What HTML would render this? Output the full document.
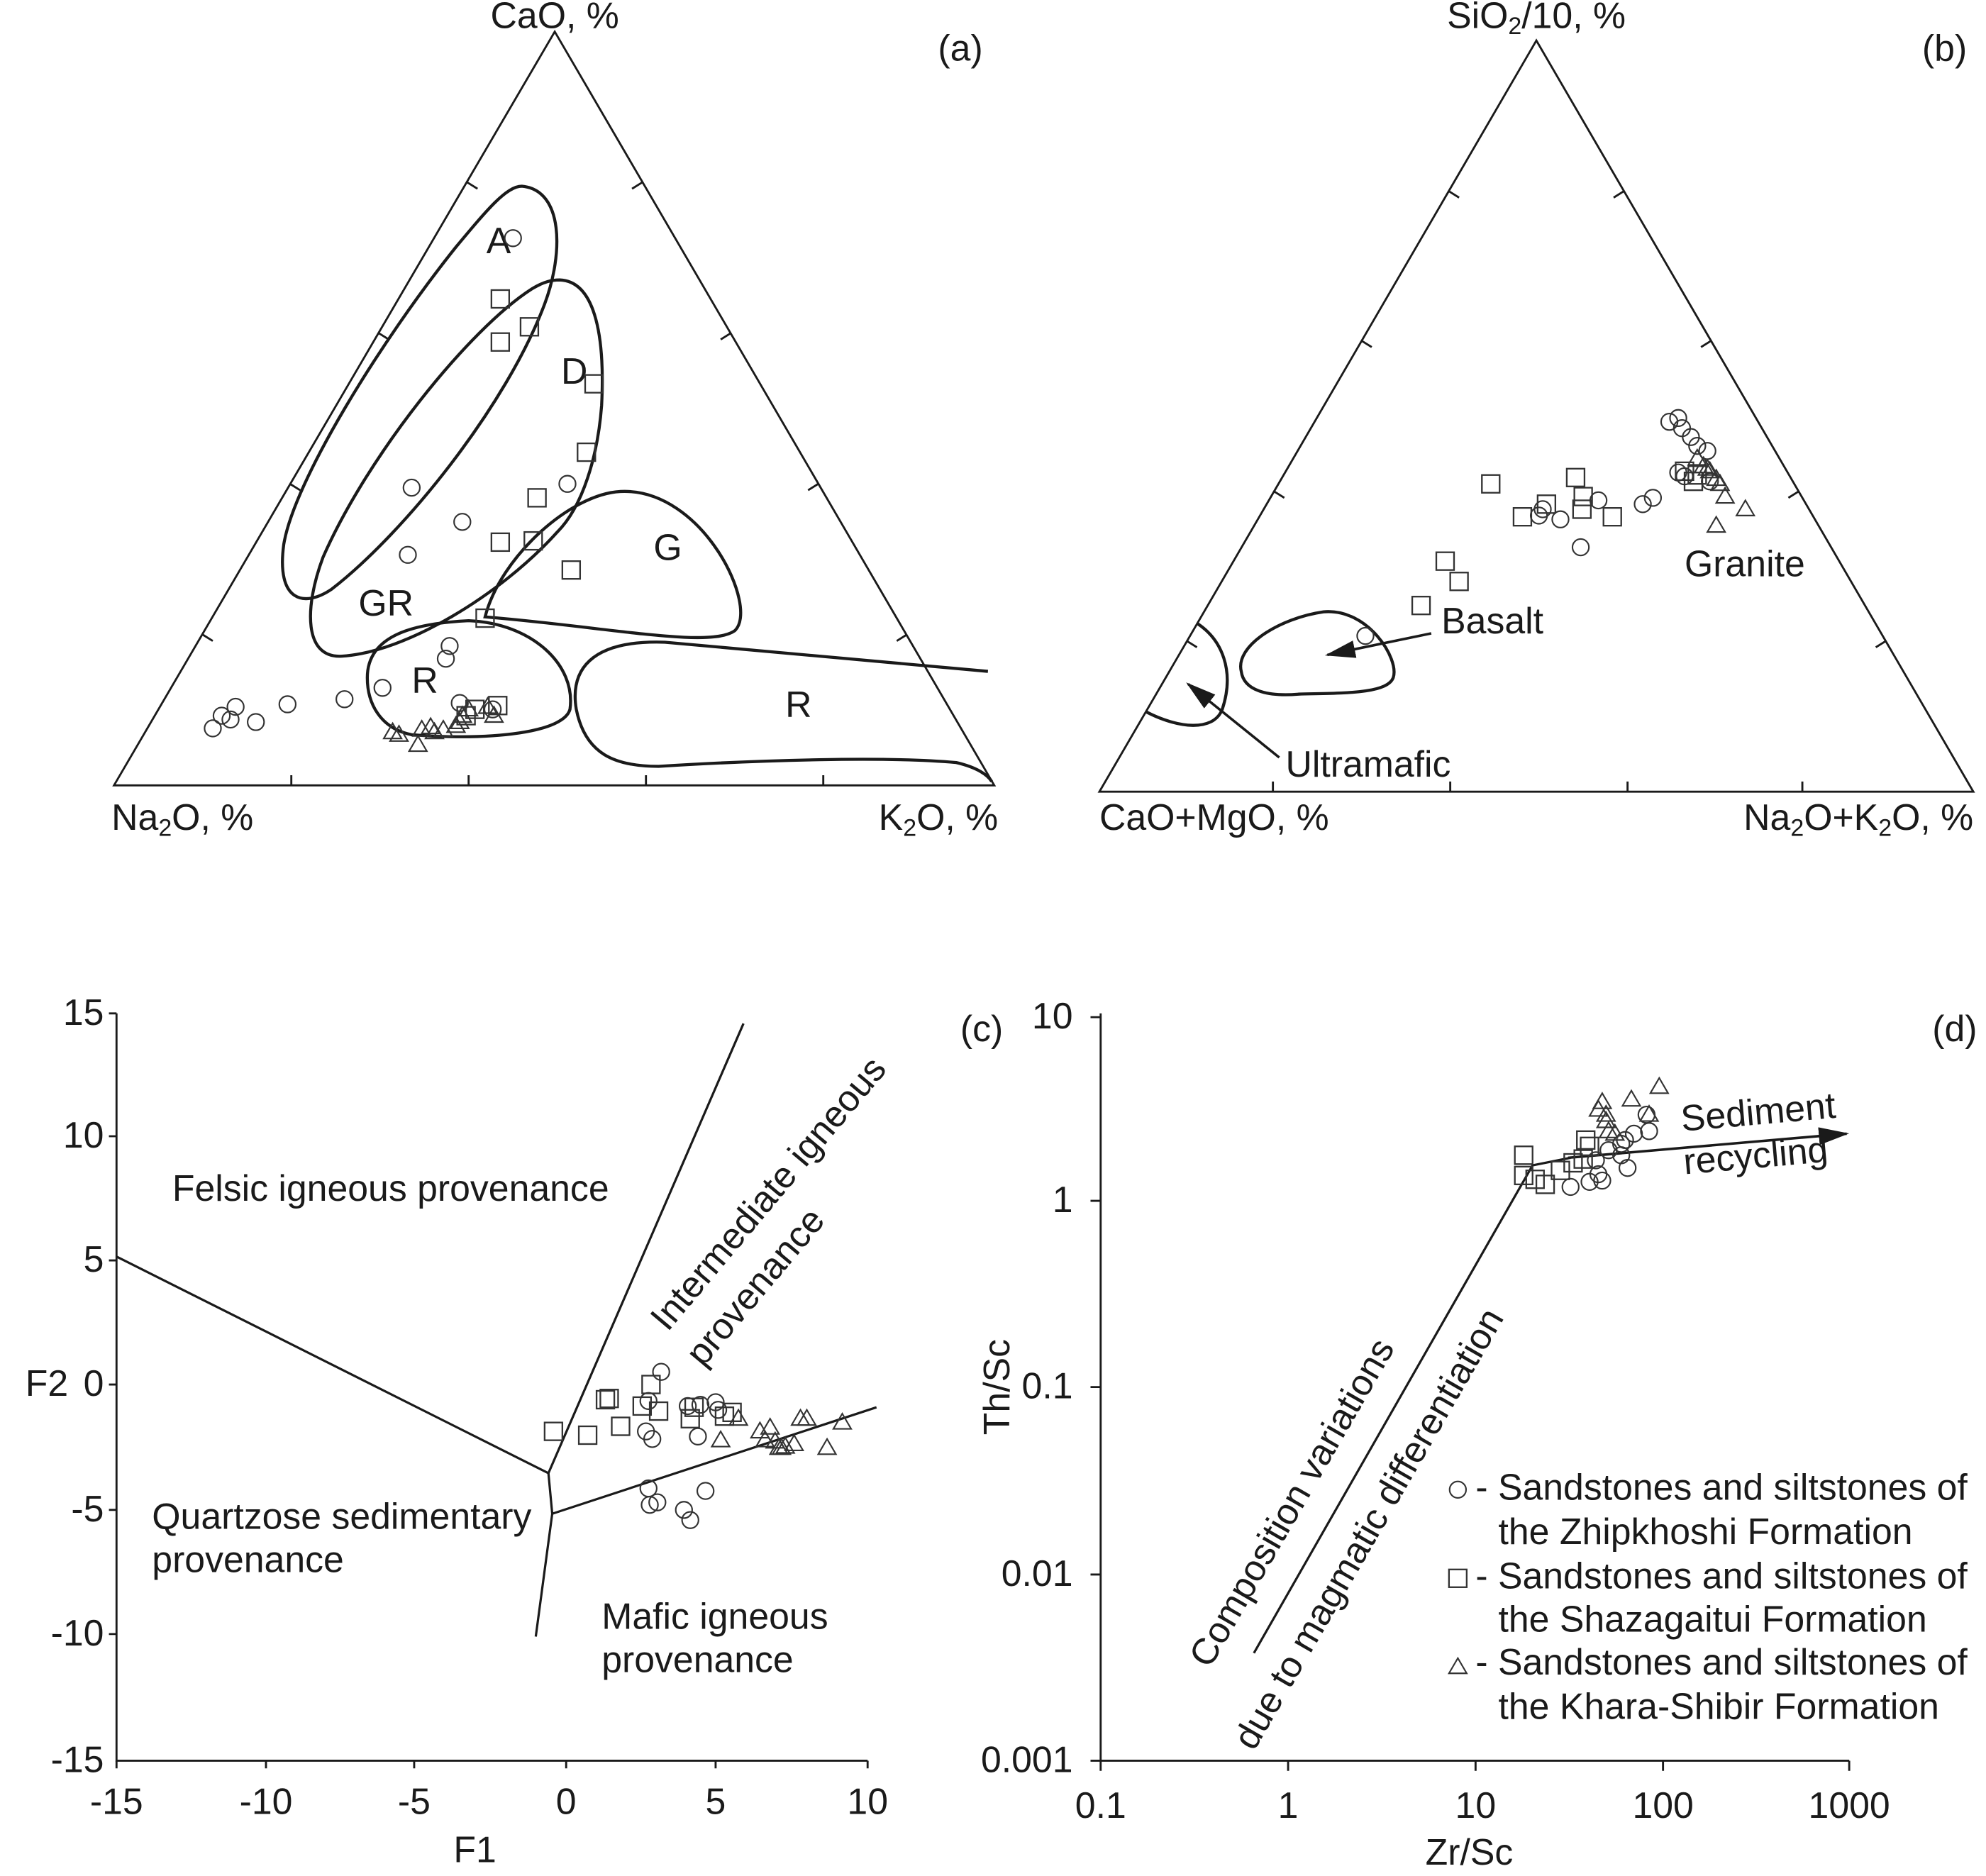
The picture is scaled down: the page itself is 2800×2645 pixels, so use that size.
<!DOCTYPE html>
<html><head><meta charset="utf-8"><style>
html,body{margin:0;padding:0;background:#fff}
svg{display:block}
text{font-family:"Liberation Sans",Arial,sans-serif;fill:#1a1a1a}
</style></head><body>
<svg xmlns="http://www.w3.org/2000/svg" width="2800" height="2645" viewBox="0 0 1568 1481" preserveAspectRatio="none">
<defs>
<marker id="ah2" markerWidth="24" markerHeight="14" refX="22" refY="7" orient="auto" markerUnits="userSpaceOnUse"><path d="M0,0 L24,7 L0,14 Z" fill="#1a1a1a"/></marker>
<circle id="c" r="6.5" fill="none" stroke="#333" stroke-width="1.2"/>
<rect id="s" x="-7" y="-7" width="14" height="14" fill="none" stroke="#333" stroke-width="1.3"/>
<path id="t" d="M0,-7 L7,5 L-7,5 Z" fill="none" stroke="#333" stroke-width="1.2"/>
</defs>
<g fill="none" stroke="#1a1a1a" stroke-width="1.6">
<!-- panel a -->
<path d="M438,25 L90,620 L785,620 Z"/>
<path d="M230,620 v-8 M370,620 v-8 M510,620 v-8 M650,620 v-8"/>
<path d="M160,501 l8,5 M229,382 l8,5 M299,263 l8,5 M369,144 l8,5"/>
<path d="M716,501 l-8,5 M646,382 l-8,5 M577,263 l-8,5 M507,144 l-8,5"/>
<g stroke-width="2.4">
<path d="M412,147 C445,150 445,200 430,240 C400,320 320,420 262,465 C240,480 218,475 224,430 C232,380 300,270 360,195 C385,165 400,147 412,147 Z"/>
<path d="M442,221 C468,222 478,260 475,320 C472,360 460,400 440,420 C395,470 320,515 270,518 C240,520 240,480 255,440 C290,360 370,260 420,228 C430,222 436,221 442,221 Z"/>
<path d="M383,487 C395,440 450,390 490,388 C555,385 600,480 580,498 C560,512 480,495 383,487 Z"/>
<path d="M290,535 C290,500 330,492 370,490 C420,492 455,525 450,560 C445,578 390,585 325,580 C300,575 290,555 290,535 Z"/>
<path d="M780,530 L525,507 C465,505 450,530 455,560 C462,595 485,605 520,605 C600,600 700,597 755,602 C772,606 780,612 783,617"/>
</g>
<!-- panel b -->
<path d="M1213,32 L868,625 L1558,625 Z"/>
<path d="M1005,625 v-8 M1145,625 v-8 M1285,625 v-8 M1423,625 v-8"/>
<path d="M937,506 l8,5 M1006,388 l8,5 M1075,269 l8,5 M1144,151 l8,5"/>
<path d="M1489,506 l-8,5 M1420,388 l-8,5 M1351,269 l-8,5 M1282,151 l-8,5"/>
<g stroke-width="2.4">
<path d="M945,492 C965,505 975,530 965,560 C958,578 930,575 905,562"/>
<path d="M980,530 C975,510 1010,488 1045,483 C1080,480 1105,520 1100,535 C1095,548 1060,547 1025,548 C1000,550 982,545 980,530 Z"/>
</g>
<line x1="1130" y1="500" x2="1048" y2="517" marker-end="url(#ah2)" stroke-width="2"/>
<line x1="1010" y1="598" x2="938" y2="540" marker-end="url(#ah2)" stroke-width="2"/>
<!-- panel c -->
<path d="M92,800 V1390 H685"/>
<path d="M86,800 h6 M86,897 h6 M86,995 h6 M86,1093 h6 M86,1192 h6 M86,1290 h6"/>
<path d="M210,1390 v6 M327,1390 v6 M447,1390 v6 M565,1390 v6 M685,1390 v6 M92,1390 v6"/>
<g stroke-width="1.8">
<path d="M92,992 L433,1163 L587,808"/>
<path d="M433,1163 L436,1195 L423,1292"/>
<path d="M436,1195 L692,1111"/>
</g>
<!-- panel d -->
<path d="M869,800 V1390 H1460"/>
<path d="M861,803 h8 M861,948 h8 M861,1095 h8 M861,1243 h8 M861,1390 h8"/>
<path d="M869,1390 v8 M1017,1390 v8 M1165,1390 v8 M1313,1390 v8 M1460,1390 v8"/>
<path d="M990,1305 L1210,920 L1240,914" stroke-width="1.8"/>
<line x1="1238" y1="914" x2="1458" y2="895" stroke-width="2" marker-end="url(#ah2)"/>
</g>
<!-- text -->
<g font-size="29">
<text x="438" y="22" text-anchor="middle">CaO, %</text>
<text x="88" y="655">Na<tspan font-size="19" dy="5">2</tspan><tspan dy="-5">O, %</tspan></text>
<text x="788" y="655" text-anchor="end">K<tspan font-size="19" dy="5">2</tspan><tspan dy="-5">O, %</tspan></text>
<text x="776" y="48" text-anchor="end">(a)</text>
<text x="384" y="200">A</text><text x="443" y="303">D</text><text x="516" y="442">G</text>
<text x="283" y="486">GR</text><text x="325" y="547">R</text><text x="620" y="566">R</text>
<text x="1213" y="22" text-anchor="middle">SiO<tspan font-size="19" dy="5">2</tspan><tspan dy="-5">/10, %</tspan></text>
<text x="868" y="655">CaO+MgO, %</text>
<text x="1558" y="655" text-anchor="end">Na<tspan font-size="19" dy="5">2</tspan><tspan dy="-5">O+K</tspan><tspan font-size="19" dy="5">2</tspan><tspan dy="-5">O, %</tspan></text>
<text x="1553" y="48" text-anchor="end">(b)</text>
<text x="1138" y="500">Basalt</text><text x="1015" y="613">Ultramafic</text><text x="1330" y="455">Granite</text>
<text x="82" y="809" text-anchor="end">15</text><text x="82" y="906" text-anchor="end">10</text>
<text x="82" y="1004" text-anchor="end">5</text><text x="82" y="1102" text-anchor="end">0</text>
<text x="82" y="1201" text-anchor="end">-5</text><text x="82" y="1299" text-anchor="end">-10</text>
<text x="82" y="1399" text-anchor="end">-15</text>
<text x="92" y="1432" text-anchor="middle">-15</text><text x="210" y="1432" text-anchor="middle">-10</text>
<text x="327" y="1432" text-anchor="middle">-5</text><text x="447" y="1432" text-anchor="middle">0</text>
<text x="565" y="1432" text-anchor="middle">5</text><text x="685" y="1432" text-anchor="middle">10</text>
<text x="20" y="1102">F2</text><text x="375" y="1470" text-anchor="middle">F1</text>
<text x="792" y="822" text-anchor="end">(c)</text>
<text x="136" y="948">Felsic igneous provenance</text>
<text x="120" y="1207">Quartzose sedimentary</text><text x="120" y="1241">provenance</text>
<text x="475" y="1286">Mafic igneous</text><text x="475" y="1320">provenance</text>
<text transform="translate(527,1052) rotate(-50)">Intermediate igneous</text>
<text transform="translate(555,1080) rotate(-50)">provenance</text>
<text x="847" y="812" text-anchor="end">10</text><text x="847" y="957" text-anchor="end">1</text>
<text x="847" y="1104" text-anchor="end">0.1</text><text x="847" y="1252" text-anchor="end">0.01</text>
<text x="847" y="1399" text-anchor="end">0.001</text>
<text x="869" y="1435" text-anchor="middle">0.1</text><text x="1017" y="1435" text-anchor="middle">1</text>
<text x="1165" y="1435" text-anchor="middle">10</text><text x="1313" y="1435" text-anchor="middle">100</text>
<text x="1460" y="1435" text-anchor="middle">1000</text>
<text x="1160" y="1472" text-anchor="middle">Zr/Sc</text>
<text transform="translate(797,1095) rotate(-90)" text-anchor="middle">Th/Sc</text>
<text x="1561" y="822" text-anchor="end">(d)</text>
<text transform="translate(1328,893) rotate(-5)">Sediment</text>
<text transform="translate(1330,927) rotate(-5)">recycling</text>
<text transform="translate(955,1318) rotate(-60)">Composition variations</text>
<text transform="translate(990,1383) rotate(-60)">due to magmatic differentiation</text>
<text x="1165" y="1184">- Sandstones and siltstones of</text><text x="1183" y="1219">the Zhipkhoshi Formation</text>
<text x="1165" y="1254">- Sandstones and siltstones of</text><text x="1183" y="1288">the Shazagaitui Formation</text>
<text x="1165" y="1322">- Sandstones and siltstones of</text><text x="1183" y="1357">the Khara-Shibir Formation</text>
</g>
<!-- legend symbols -->
<use href="#c" x="1151" y="1176"/>
<use href="#s" x="1151" y="1246"/>
<use href="#t" x="1151" y="1316"/>
<!-- data panel a -->
<g>
<use href="#c" x="405" y="188"/><use href="#c" x="325" y="385"/><use href="#c" x="365" y="412"/><use href="#c" x="322" y="438"/><use href="#c" x="448" y="382"/><use href="#c" x="355" y="510"/><use href="#c" x="352" y="520"/><use href="#c" x="302" y="543"/><use href="#c" x="272" y="552"/><use href="#c" x="227" y="556"/><use href="#c" x="202" y="570"/><use href="#c" x="186" y="558"/><use href="#c" x="175" y="565"/><use href="#c" x="182" y="568"/><use href="#c" x="168" y="575"/><use href="#c" x="363" y="555"/><use href="#c" x="389" y="560"/>
<use href="#s" x="395" y="236"/><use href="#s" x="418" y="258"/><use href="#s" x="395" y="270"/><use href="#s" x="469" y="303"/><use href="#s" x="463" y="357"/><use href="#s" x="424" y="393"/><use href="#s" x="395" y="428"/><use href="#s" x="421" y="427"/><use href="#s" x="451" y="450"/><use href="#s" x="383" y="488"/><use href="#s" x="393" y="557"/><use href="#s" x="375" y="560"/><use href="#s" x="368" y="565"/>
<use href="#t" x="310" y="578"/><use href="#t" x="315" y="580"/><use href="#t" x="330" y="588"/><use href="#t" x="333" y="576"/><use href="#t" x="343" y="578"/><use href="#t" x="340" y="574"/><use href="#t" x="350" y="576"/><use href="#t" x="363" y="570"/><use href="#t" x="365" y="565"/><use href="#t" x="370" y="560"/><use href="#t" x="390" y="565"/><use href="#t" x="385" y="558"/><use href="#t" x="360" y="573"/>
</g>
<!-- data panel b -->
<g>
<use href="#c" x="1318" y="333"/><use href="#c" x="1325" y="330"/><use href="#c" x="1328" y="338"/><use href="#c" x="1335" y="345"/><use href="#c" x="1340" y="352"/><use href="#c" x="1348" y="356"/><use href="#c" x="1325" y="373"/><use href="#c" x="1330" y="376"/><use href="#c" x="1305" y="393"/><use href="#c" x="1297" y="398"/><use href="#c" x="1262" y="395"/><use href="#c" x="1232" y="410"/><use href="#c" x="1218" y="402"/><use href="#c" x="1215" y="407"/><use href="#c" x="1248" y="432"/><use href="#c" x="1078" y="502"/><use href="#c" x="1350" y="380"/>
<use href="#s" x="1177" y="382"/><use href="#s" x="1244" y="377"/><use href="#s" x="1250" y="392"/><use href="#s" x="1221" y="398"/><use href="#s" x="1249" y="402"/><use href="#s" x="1202" y="408"/><use href="#s" x="1273" y="408"/><use href="#s" x="1141" y="443"/><use href="#s" x="1152" y="459"/><use href="#s" x="1122" y="478"/><use href="#s" x="1330" y="372"/><use href="#s" x="1337" y="380"/><use href="#s" x="1340" y="375"/>
<use href="#t" x="1340" y="362"/><use href="#t" x="1345" y="368"/><use href="#t" x="1350" y="372"/><use href="#t" x="1355" y="378"/><use href="#t" x="1358" y="382"/><use href="#t" x="1362" y="392"/><use href="#t" x="1378" y="402"/><use href="#t" x="1355" y="415"/><use href="#t" x="1348" y="370"/>
</g>
<!-- data panel c -->
<g>
<use href="#s" x="437" y="1130"/><use href="#s" x="464" y="1133"/><use href="#s" x="478" y="1105"/><use href="#s" x="481" y="1104"/><use href="#s" x="490" y="1126"/><use href="#s" x="507" y="1110"/><use href="#s" x="514" y="1093"/><use href="#s" x="520" y="1114"/><use href="#s" x="545" y="1120"/><use href="#s" x="572" y="1118"/><use href="#s" x="578" y="1115"/><use href="#s" x="548" y="1111"/>
<use href="#c" x="522" y="1083"/><use href="#c" x="512" y="1106"/><use href="#c" x="543" y="1110"/><use href="#c" x="553" y="1109"/><use href="#c" x="565" y="1107"/><use href="#c" x="510" y="1130"/><use href="#c" x="515" y="1136"/><use href="#c" x="551" y="1134"/><use href="#c" x="512" y="1175"/><use href="#c" x="519" y="1186"/><use href="#c" x="513" y="1188"/><use href="#c" x="557" y="1177"/><use href="#c" x="540" y="1192"/><use href="#c" x="545" y="1200"/><use href="#c" x="567" y="1113"/>
<use href="#t" x="569" y="1137"/><use href="#t" x="583" y="1120"/><use href="#t" x="600" y="1130"/><use href="#t" x="608" y="1127"/><use href="#t" x="612" y="1138"/><use href="#t" x="615" y="1143"/><use href="#t" x="617" y="1143"/><use href="#t" x="620" y="1142"/><use href="#t" x="627" y="1140"/><use href="#t" x="632" y="1120"/><use href="#t" x="637" y="1120"/><use href="#t" x="653" y="1143"/><use href="#t" x="665" y="1123"/><use href="#t" x="604" y="1137"/>
</g>
<!-- data panel d -->
<g>
<use href="#s" x="1203" y="912"/><use href="#s" x="1203" y="928"/><use href="#s" x="1220" y="935"/><use href="#s" x="1232" y="924"/><use href="#s" x="1242" y="918"/><use href="#s" x="1252" y="900"/><use href="#s" x="1255" y="905"/><use href="#s" x="1250" y="915"/><use href="#s" x="1212" y="931"/>
<use href="#c" x="1240" y="937"/><use href="#c" x="1255" y="933"/><use href="#c" x="1265" y="932"/><use href="#c" x="1262" y="927"/><use href="#c" x="1270" y="908"/><use href="#c" x="1280" y="903"/><use href="#c" x="1283" y="900"/><use href="#c" x="1285" y="922"/><use href="#c" x="1290" y="895"/><use href="#c" x="1302" y="893"/><use href="#c" x="1300" y="880"/><use href="#c" x="1280" y="912"/><use href="#c" x="1260" y="916"/>
<use href="#t" x="1265" y="870"/><use href="#t" x="1268" y="880"/><use href="#t" x="1268" y="885"/><use href="#t" x="1288" y="868"/><use href="#t" x="1302" y="880"/><use href="#t" x="1310" y="858"/><use href="#t" x="1270" y="893"/><use href="#t" x="1275" y="895"/><use href="#t" x="1262" y="876"/>
</g>
</svg>
</body></html>
